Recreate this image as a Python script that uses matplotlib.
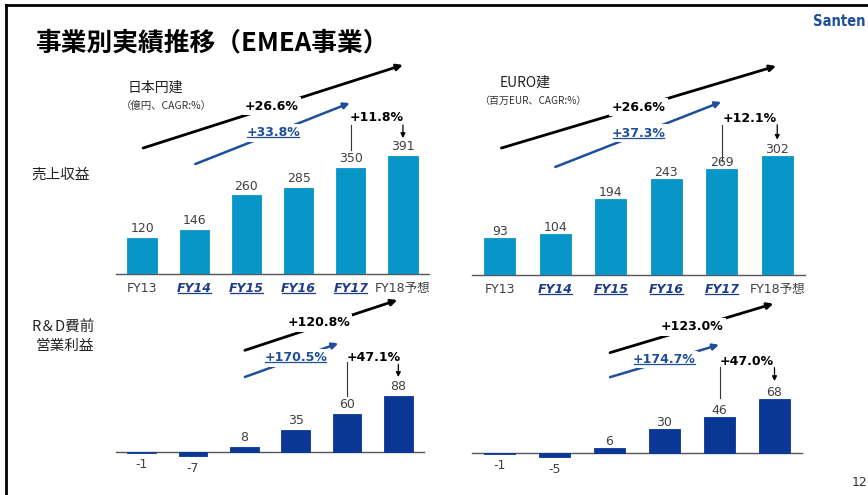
import matplotlib.pyplot as plt
from matplotlib.lines import Line2D

plt.rcParams['font.family'] = ['DejaVu Sans', 'Noto Sans CJK JP']

# EMEA segment results
years = ['FY13', 'FY14', 'FY15', 'FY16', 'FY17', 'FY18予想']
sales_jpy = [120, 146, 260, 285, 350, 391]      # 億円
sales_eur = [93, 104, 194, 243, 269, 302]        # 百万EUR
op_jpy = [-1, -7, 8, 35, 60, 88]                 # R&D費前営業利益, 億円
op_eur = [-1, -5, 6, 30, 46, 68]                 # R&D費前営業利益, 百万EUR

# CAGR labels: (FY13-FY18, FY14-FY17, FY17->FY18)
cagr_sales_jpy = ['+26.6%', '+33.8%', '+11.8%']
cagr_sales_eur = ['+26.6%', '+37.3%', '+12.1%']
cagr_op_jpy = ['+120.8%', '+170.5%', '+47.1%']
cagr_op_eur = ['+123.0%', '+174.7%', '+47.0%']

LIGHT = '#0895c7'
DARK = '#0a3796'
ARROW_BLUE = '#1f4e9c'
TICK_BLUE = '#1f3c88'
GREY = '#404040'

W, H = 868, 495
fig = plt.figure(figsize=(W / 100, H / 100), dpi=100)


def px_axes(x0, x1, y_top, y_bot):
    return fig.add_axes([x0 / W, 1 - y_bot / H, (x1 - x0) / W, (y_bot - y_top) / H])


underlined = []


def bar_panel(ax, values, color, ylim, show_ticks, label_off):
    x = range(len(values))
    ax.bar(x, values, width=0.56, color=color, zorder=3, edgecolor=color, linewidth=0.6)
    ax.set_xlim(-0.5, 5.5)
    ax.set_ylim(*ylim)
    for s in ['top', 'right', 'left']:
        ax.spines[s].set_visible(False)
    ax.spines['bottom'].set_position(('data', 0))
    ax.spines['bottom'].set_color('#555555')
    ax.spines['bottom'].set_linewidth(1.0)
    ax.set_yticks([])
    ax.set_xticks(list(x))
    ax.tick_params(axis='x', length=0, pad=6)
    ax.patch.set_alpha(0)
    if show_ticks:
        ax.set_xticklabels(years, fontsize=9, color=GREY)
        for i, t in enumerate(ax.get_xticklabels()):
            if 1 <= i <= 4:
                t.set_fontweight('bold')
                t.set_fontstyle('italic')
                t.set_color(TICK_BLUE)
                underlined.append(t)
    else:
        ax.set_xticklabels([])
    for i, v in enumerate(values):
        if v >= 0:
            ax.annotate(str(v), (i, v), xytext=(0, label_off), textcoords='offset points',
                        ha='center', va='bottom', fontsize=9, color=GREY)
        else:
            ax.annotate(str(v), (i, v), xytext=(0, -4), textcoords='offset points',
                        ha='center', va='top', fontsize=9, color=GREY)


def cagr_marks(ax, labels, black, blue, yoy):
    # long-term CAGR arrow (black), interrupted by its label
    ax.annotate('', xy=black[1], xytext=black[0],
                arrowprops=dict(arrowstyle='-|>', color='black', lw=2.0, mutation_scale=9,
                                shrinkA=0, shrinkB=0), annotation_clip=False)
    ax.text(*black[2], labels[0], ha='center', va='center', fontsize=9, fontweight='bold',
            color='black', bbox=dict(facecolor='white', edgecolor='none', pad=1.5), zorder=5)
    # FY14-FY17 CAGR arrow (blue)
    ax.annotate('', xy=blue[1], xytext=blue[0],
                arrowprops=dict(arrowstyle='-|>', color=ARROW_BLUE, lw=1.8, mutation_scale=9,
                                shrinkA=0, shrinkB=0), annotation_clip=False)
    t = ax.text(*blue[2], labels[1], ha='center', va='center', fontsize=9, fontweight='bold',
                color=ARROW_BLUE, bbox=dict(facecolor='white', edgecolor='none', pad=1.5), zorder=5)
    underlined.append(t)
    # year-on-year growth FY17 -> FY18
    ax.plot([4, 4], yoy[1], color='#333333', lw=0.8, clip_on=False)
    ax.annotate('', xy=(5, yoy[2][1]), xytext=(5, yoy[2][0]),
                arrowprops=dict(arrowstyle='-|>', color='black', lw=0.9, mutation_scale=7,
                                shrinkA=0, shrinkB=0), annotation_clip=False)
    ax.text(*yoy[0], labels[2], ha='center', va='center', fontsize=9, fontweight='bold', color='black')


ax1 = px_axes(116, 429, 55, 274)
bar_panel(ax1, sales_jpy, LIGHT, (0, 725), True, 2)
cagr_marks(ax1, cagr_sales_jpy,
           [(0.02, 417), (5.0, 692), (2.49, 556)],
           [(1.02, 364), (3.98, 566), (2.51, 467)],
           [(4.5, 517), (493, 411), (493, 450)])

ax2 = px_axes(472, 805, 55, 275)
bar_panel(ax2, sales_eur, LIGHT, (0, 558), True, 0)
cagr_marks(ax2, cagr_sales_eur,
           [(0.03, 322), (4.98, 530), (2.5, 426)],
           [(1.0, 274), (3.99, 439), (2.5, 360)],
           [(4.5, 398), (381, 290), (381, 343)])

ax3 = px_axes(116, 424, 295, 470)
bar_panel(ax3, op_jpy, DARK, (-28.3, 247), False, 2)
cagr_marks(ax3, cagr_op_jpy,
           [(2.01, 160), (4.98, 239), (3.45, 203)],
           [(2.01, 118), (3.83, 171), (3.0, 148)],
           [(4.52, 149), (141.5, 88), (138, 118)])

ax4 = px_axes(472, 802, 295, 470)
bar_panel(ax4, op_eur, DARK, (-21.5, 200), False, 0)
cagr_marks(ax4, cagr_op_eur,
           [(2.01, 127), (4.98, 189), (3.5, 159.5)],
           [(2.01, 96), (3.99, 137), (3.0, 118)],
           [(4.5, 116), (109, 70), (108, 91)])

# slide texts
fig.text(35 / W, 1 - 43 / H, '事業別実績推移（EMEA事業）', fontsize=18.5, fontweight='bold',
         family=['Noto Sans CJK JP'], va='center', ha='left', color='black')
fig.text(128 / W, 1 - 88 / H, '日本円建', fontsize=10, family=['Noto Sans CJK JP'],
         va='center', color='#222222')
fig.text(121 / W, 1 - 106 / H, '（億円、CAGR:%）', fontsize=7.5, family=['Noto Sans CJK JP'],
         va='center', color='#333333')
fig.text(500 / W, 1 - 83 / H, 'EURO建', fontsize=10, family=['Noto Sans CJK JP'],
         va='center', color='#222222')
fig.text(479 / W, 1 - 101 / H, '（百万EUR、CAGR:%）', fontsize=7.2, family=['Noto Sans CJK JP'],
         va='center', color='#333333')
fig.text(61 / W, 1 - 175 / H, '売上収益', fontsize=10.5, family=['Noto Sans CJK JP'],
         va='center', ha='center', color='#222222')
fig.text(63 / W, 1 - 328 / H, 'R＆D費前', fontsize=10.5, family=['Noto Sans CJK JP'],
         va='center', ha='center', color='#222222')
fig.text(65 / W, 1 - 346 / H, '営業利益', fontsize=10.5, family=['Noto Sans CJK JP'],
         va='center', ha='center', color='#222222')
fig.text(866 / W, 1 - 21 / H, 'Santen', fontsize=10.5, fontweight='bold', fontstretch='condensed',
         family=['DejaVu Sans'], color='#1d4f9e', ha='right', va='center')
fig.text(852 / W, 1 - 483 / H, '12', fontsize=9, color='#333333', va='center')

# slide frame (left and top edges)
fig.add_artist(Line2D([6 / W, 6 / W], [0, 1 - 5 / H], color='black', lw=2))
fig.add_artist(Line2D([6 / W, 1], [1 - 5 / H, 1 - 5 / H], color='black', lw=2))

# underline emphasised labels
fig.canvas.draw()
r = fig.canvas.get_renderer()
for t in underlined:
    bb = t.get_window_extent(r)
    y = bb.y0 + 2
    fig.add_artist(Line2D([bb.x0 / W + 1 / W, bb.x1 / W - 1 / W], [y / H, y / H],
                          color=t.get_color(), lw=0.9))

fig.savefig('out.png', dpi=100)
